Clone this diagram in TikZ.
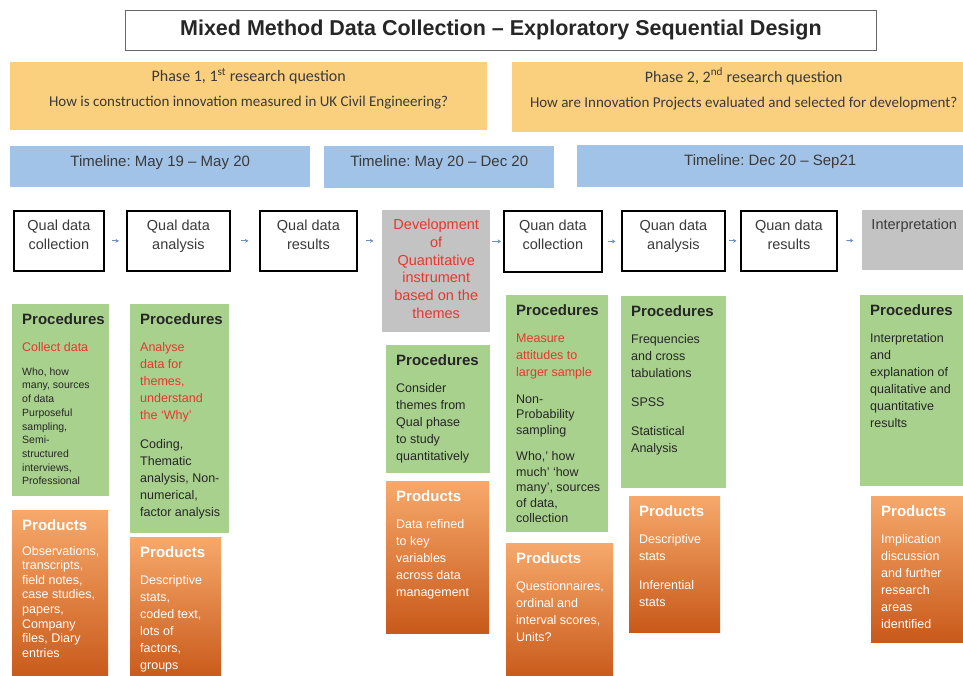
\documentclass[tikz,border=0pt]{standalone}
\usepackage{fontspec}
\setmainfont{Liberation Sans}
\newfontfamily\calib{Carlito}
\usetikzlibrary{arrows.meta}
\definecolor{phaseor}{HTML}{FAD07F}
\definecolor{tlblue}{HTML}{A2C3E8}
\definecolor{procgreen}{HTML}{A9D18E}
\definecolor{devgray}{HTML}{C3C3C3}
\definecolor{redtxt}{HTML}{E8372F}
\definecolor{txtgray}{HTML}{3A3A3A}
\definecolor{prodtop}{HTML}{F6A96B}
\definecolor{prodbot}{HTML}{C8591A}
\definecolor{arrblue}{HTML}{6F8FBF}
\frenchspacing
% name, style, x, y, w, h, content
\newcommand\bx[7]{\node[#2,anchor=north west,minimum width=#5pt,minimum height=#6pt,inner sep=0pt] (#1) at (#3,#4) {\parbox[c][\dimexpr#6pt-18pt\relax][t]{\dimexpr#5pt-6pt\relax}{#7}};}
\newcommand\hdr[1]{{\fontsize{15}{17}\selectfont\bfseries #1\par}\vspace{10.5pt}}
\newcommand\bodyf{\raggedright\leftskip=7pt\fontsize{12.5}{17}\selectfont}
\newcommand\blk{\par\vspace{12pt}}
\newcommand\rowf{\centering\fontsize{14.5}{19}\selectfont}
\begin{document}
\begin{tikzpicture}[x=1pt,y=-1pt,
  rowbox/.style={draw=black,line width=1.8pt,fill=white,text=txtgray},
  graybox/.style={fill=devgray},
  procbox/.style={fill=procgreen,text=black!85},
  prodbox/.style={top color=prodtop,bottom color=prodbot,text=white},
  tlbox/.style={fill=tlblue,text=txtgray},
  phbox/.style={fill=phaseor,text=txtgray},
  arr/.style={-{Stealth[length=3.5pt,width=4pt]},line width=0.9pt,draw=arrblue}]
\useasboundingbox (0,0) rectangle (963,675);
\fill[white] (0,0) rectangle (963,675);
\clip (0,0) rectangle (963,675);

% title
\node[draw=black!60,line width=0.8pt,fill=white,minimum width=751pt,minimum height=40pt,anchor=north west,
  font=\fontsize{21.5}{24}\selectfont\bfseries,text=black!85] (title) at (125,10)
  {Mixed Method Data Collection – Exploratory Sequential Design};

% phases
\bx{ph1}{phbox}{10}{62}{477}{68}{\vspace*{-3pt}\centering\calib\fontsize{16}{18}\selectfont Phase 1, 1\textsuperscript{st} research question\par\vspace{8pt}\fontsize{15}{17}\selectfont How is construction innovation measured in UK Civil Engineering?\par}
\bx{ph2}{phbox}{512}{62}{463}{70}{\vspace*{-3pt}\centering\calib\fontsize{16}{18}\selectfont Phase 2, 2\textsuperscript{nd} research question\par\vspace{8pt}\fontsize{15}{17}\selectfont How are Innovation Projects evaluated and selected for development?\par}

% timelines
\bx{tl1}{tlbox}{10}{146}{300}{41}{\centering\fontsize{15}{17}\selectfont Timeline: May 19 – May 20\par}
\bx{tl2}{tlbox}{324}{146}{230}{42}{\centering\fontsize{15}{17}\selectfont Timeline: May 20 – Dec 20\par}
\bx{tl3}{tlbox}{577}{145}{386}{42}{\centering\fontsize{15}{17}\selectfont Timeline: Dec 20 – Sep21\par}

% process row
\bx{ql1}{rowbox}{13}{210}{90}{60}{\rowf Qual data\\collection\par}
\bx{ql2}{rowbox}{126}{210}{103}{60}{\rowf Qual data\\analysis\par}
\bx{ql3}{rowbox}{259}{210}{97}{60}{\rowf Qual data\\results\par}
\bx{dev}{graybox}{382}{210}{108}{122}{\centering\color{redtxt}\fontsize{14.5}{17.7}\selectfont Development\\of\\Quantitative\\instrument\\based on the\\themes\par}
\bx{qn1}{rowbox}{503}{210}{98}{61}{\rowf Quan data\\collection\par}
\bx{qn2}{rowbox}{621}{210}{103}{60}{\rowf Quan data\\analysis\par}
\bx{qn3}{rowbox}{740}{210}{96}{60}{\rowf Quan data\\results\par}
\bx{intp}{graybox}{862}{210}{104}{60}{\rowf\color{txtgray} Interpretation\par}

\draw[arr,shorten <=7pt,shorten >=7pt] (ql1) -- (ql2);
\draw[arr,shorten <=10.5pt,shorten >=10.5pt] (ql2) -- (ql3);
\draw[arr,shorten <=8.5pt,shorten >=8.5pt] (ql3.east) -- (ql3.east -| dev.west);
\draw[arr,shorten <=2pt,shorten >=2pt] (dev.east |- qn1.west) -- (qn1.west);
\draw[arr,shorten <=5.5pt,shorten >=5.5pt] (qn1.east) -- (qn1.east -| qn2.west);
\draw[arr,shorten <=3.5pt,shorten >=3.5pt] (qn2) -- (qn3);
\draw[arr,shorten <=8.5pt,shorten >=8.5pt] (qn3) -- (intp);

% procedures
\bx{pr1}{procbox}{12}{304}{97}{192}{\bodyf\hdr{Procedures}{\color{redtxt}Collect data\par}\vspace{10pt}{\fontsize{10.5}{13.7}\selectfont Who, how\\many, sources\\of data\\Purposeful\\sampling,\\Semi-\\structured\\interviews,\\Professional\par}}
\bx{pr2}{procbox}{130}{304}{99}{229}{\bodyf\hdr{Procedures}{\color{redtxt}Analyse\\data for\\themes,\\understand\\the ‘Why’\par}\blk Coding,\\Thematic\\analysis, Non-\\numerical,\\factor analysis\par}
\bx{pr3}{procbox}{386}{345}{104}{128}{\bodyf\hdr{Procedures}Consider\\themes from\\Qual phase\\to study\\quantitatively\par}
\bx{pr4}{procbox}{506}{295}{102}{237}{\bodyf\hdr{Procedures}{\color{redtxt}Measure\\attitudes to\\larger sample\par}\par\vspace{11pt}\fontsize{12.5}{15.5}\selectfont Non-\\Probability\\sampling\par\vspace{11pt}Who,’ how\\much’ ‘how\\many’, sources\\of data,\\collection\par}
\bx{pr5}{procbox}{621}{296}{105}{192}{\bodyf\hdr{Procedures}Frequencies\\and cross\\tabulations\blk SPSS\blk Statistical\\Analysis\par}
\bx{pr6}{procbox}{860}{295}{106}{191}{\bodyf\hdr{Procedures}Interpretation\\and\\explanation of\\qualitative and\\quantitative\\results\par}

% products
\bx{pd1}{prodbox}{12}{510}{96}{170}{\bodyf\hdr{Products}\fontsize{12.5}{14.6}\selectfont Observations,\\transcripts,\\field notes,\\case studies,\\papers,\\Company\\files, Diary\\entries\par}
\bx{pd2}{prodbox}{130}{537}{91}{143}{\bodyf\hdr{Products}Descriptive\\stats,\\coded text,\\lots of\\factors,\\groups\par}
\bx{pd3}{prodbox}{386}{481}{103}{152}{\bodyf\hdr{Products}Data refined\\to key\\variables\\across data\\management\par}
\bx{pd4}{prodbox}{506}{543}{107}{137}{\bodyf\hdr{Products}Questionnaires,\\ordinal and\\interval scores,\\Units?\par}
\bx{pd5}{prodbox}{629}{496}{91}{136}{\bodyf\hdr{Products}Descriptive\\stats\blk Inferential\\stats\par}
\bx{pd6}{prodbox}{871}{496}{95}{146}{\bodyf\hdr{Products}Implication\\discussion\\and further\\research\\areas\\identified\par}
\end{tikzpicture}
\end{document}
